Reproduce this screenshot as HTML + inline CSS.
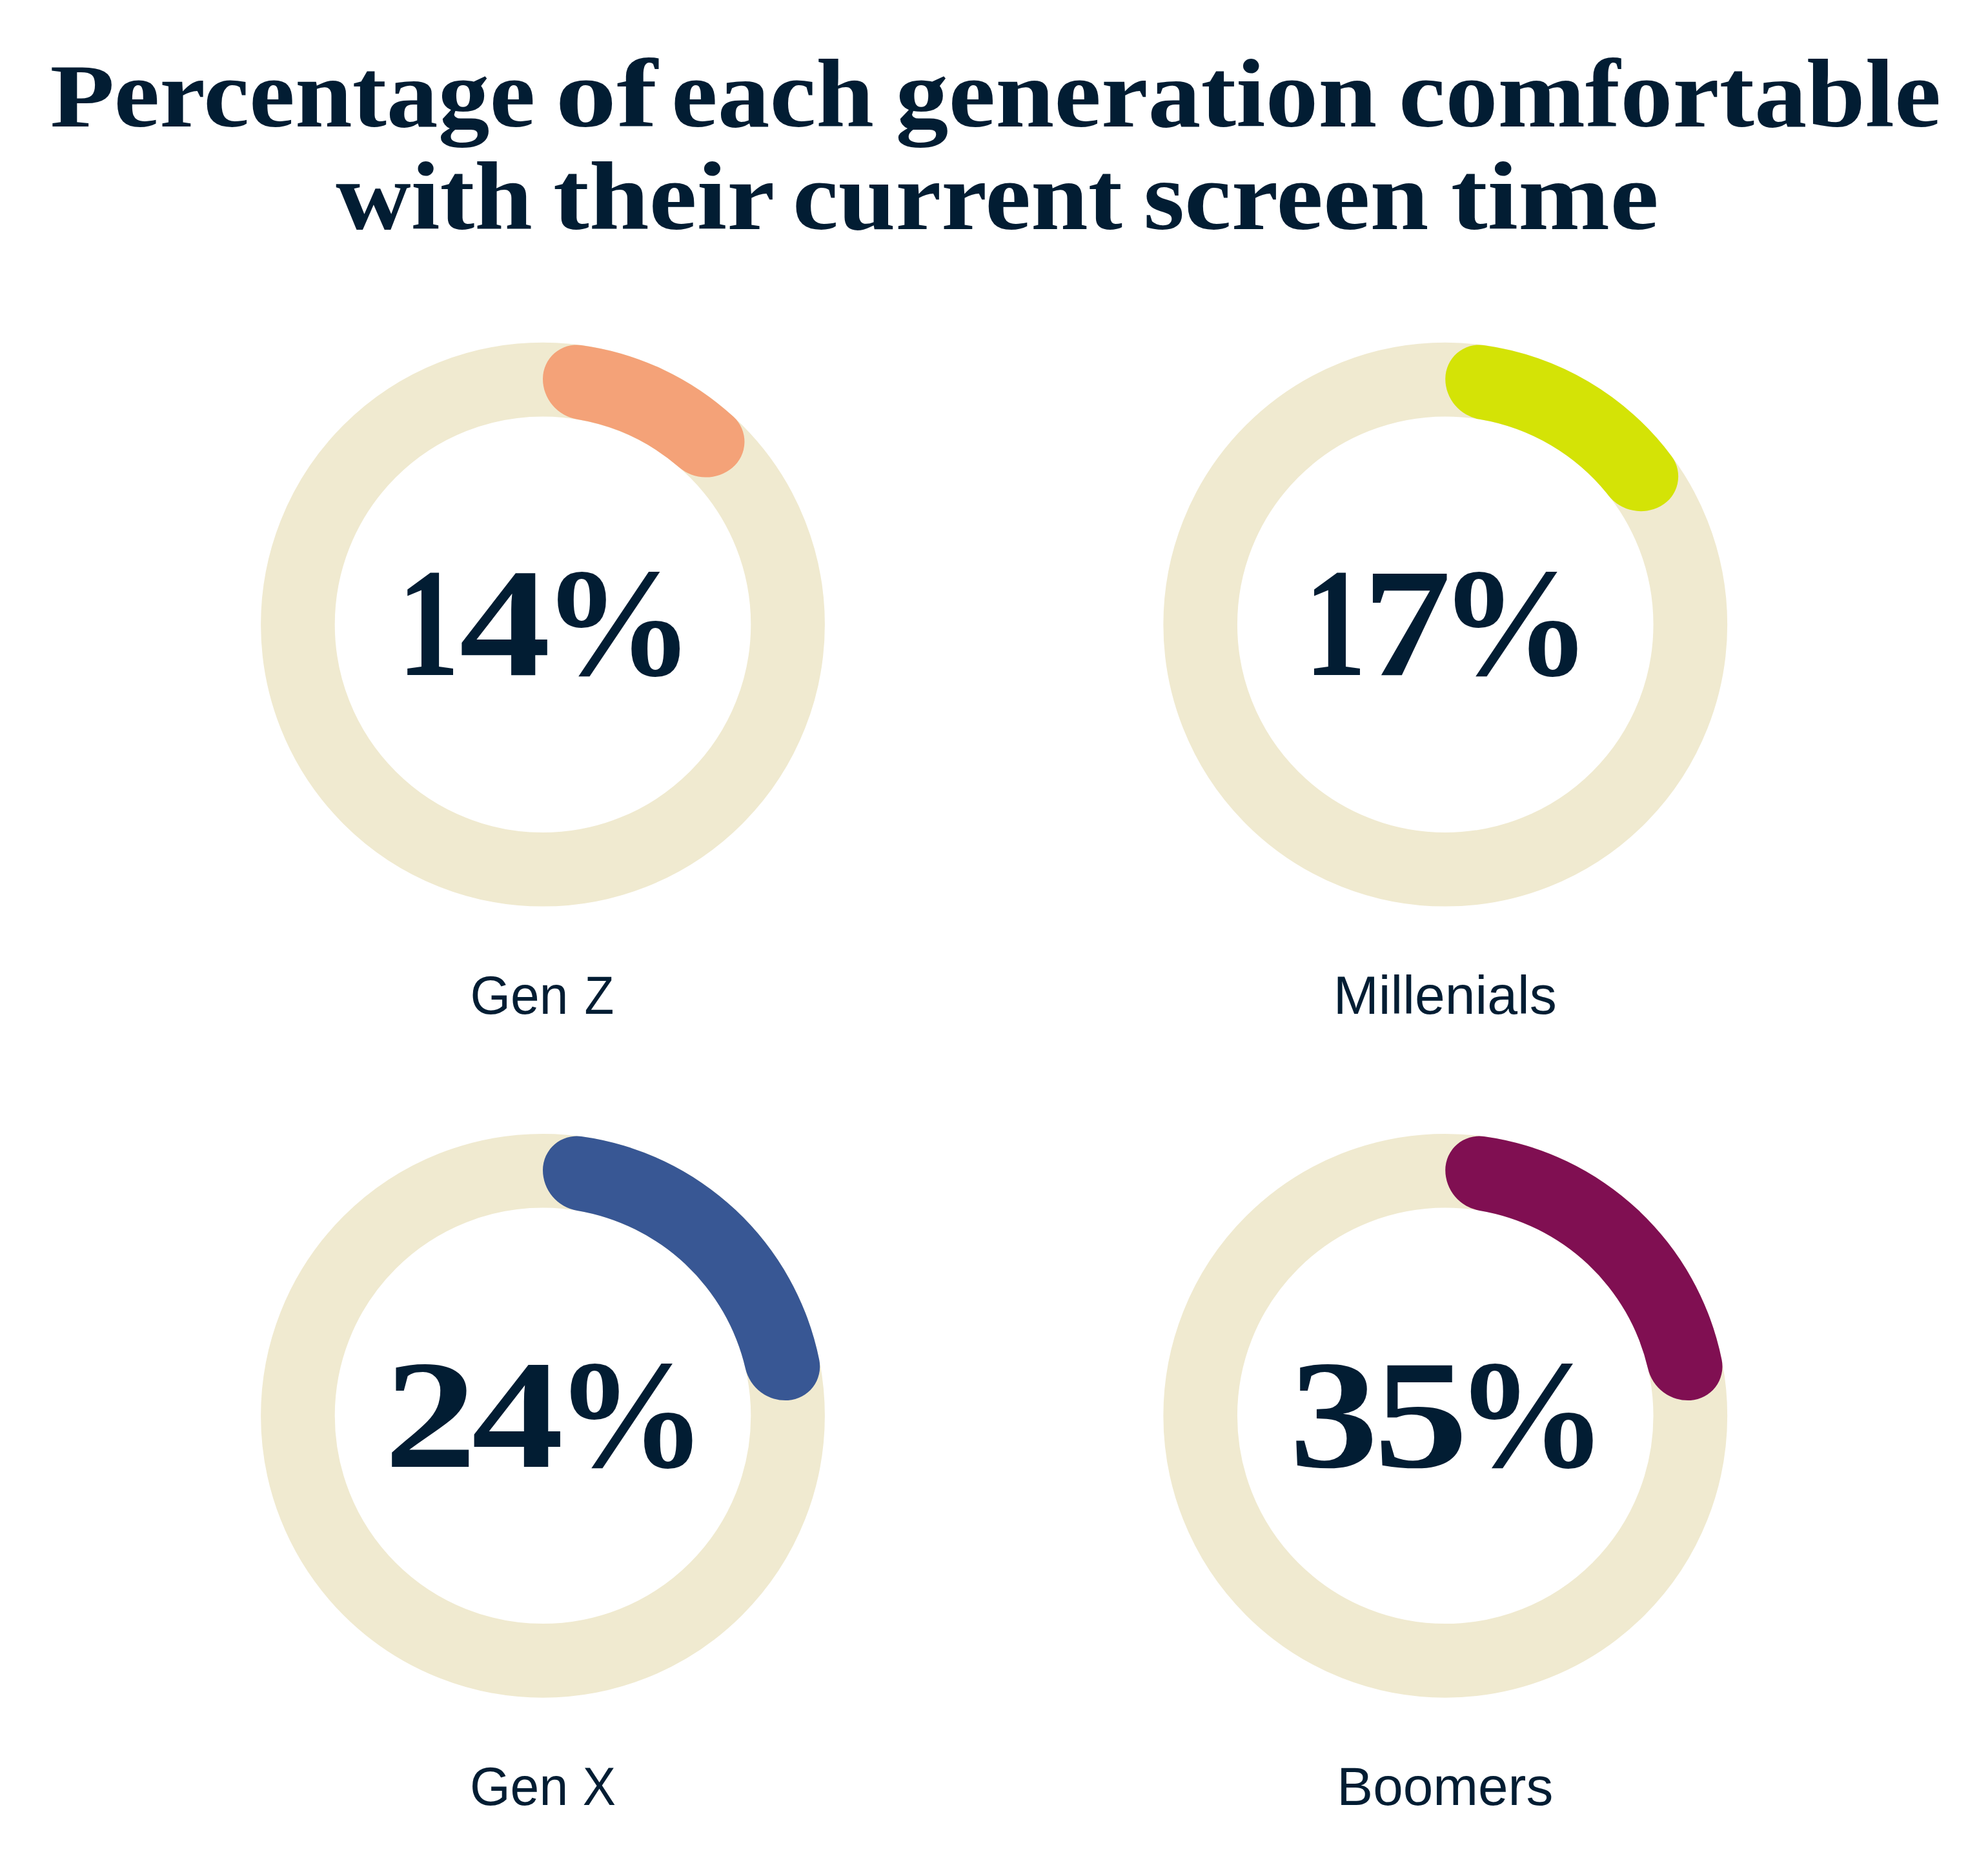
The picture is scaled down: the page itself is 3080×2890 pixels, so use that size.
<!DOCTYPE html>
<html lang="en">
<head>
<meta charset="utf-8">
<title>Percentage of each generation comfortable with their current screen time</title>
<style>
html,body{margin:0;padding:0;background:#fff;overflow:hidden;}
svg{display:block;width:100vw;height:auto;}
text{white-space:pre;}
.title{font-family:"Liberation Serif",serif;font-weight:700;font-size:150px;fill:#021d33;}
.num{font-family:"Liberation Serif",serif;font-weight:700;font-size:240px;fill:#021d33;}
.lab{font-family:"Liberation Sans",sans-serif;font-weight:400;font-size:84px;fill:#021d33;}
</style>
</head>
<body>
<svg viewBox="0 0 3080 2890" role="img" aria-label="Percentage of each generation comfortable with their current screen time">
<rect width="3080" height="2890" fill="#ffffff"/>
<circle cx="841.0" cy="967.7" r="379.6" fill="none" stroke="#f0ead0" stroke-width="114.6"/>
<path d="M900.67 534.89 A436.90 436.90 0 0 1 1136.45 645.84 A52.5 52.5 0 0 1 1134.41 724.97 L1134.41 724.97 A63.81 63.81 0 0 1 1051.97 724.04 A322.30 322.30 0 0 0 894.26 649.83 A63.81 63.81 0 0 1 841.00 586.90 L841.00 586.90 A52.5 52.5 0 0 1 900.67 534.89 Z" fill="#f4a278"/>
<circle cx="2239.25" cy="967.7" r="379.6" fill="none" stroke="#f0ead0" stroke-width="114.6"/>
<path d="M2298.92 534.89 A436.90 436.90 0 0 1 2589.77 706.90 A52.5 52.5 0 0 1 2572.95 784.25 L2572.95 784.25 A63.81 63.81 0 0 1 2492.14 767.89 A322.30 322.30 0 0 0 2292.51 649.83 A63.81 63.81 0 0 1 2239.25 586.90 L2239.25 586.90 A52.5 52.5 0 0 1 2298.92 534.89 Z" fill="#d4e306"/>
<circle cx="841.0" cy="2193.8" r="379.6" fill="none" stroke="#f0ead0" stroke-width="114.6"/>
<path d="M900.67 1760.99 A436.90 436.90 0 0 1 1269.21 2107.07 A52.5 52.5 0 0 1 1221.05 2169.89 L1221.05 2169.89 A63.81 63.81 0 0 1 1154.90 2120.68 A322.30 322.30 0 0 0 894.26 1875.93 A63.81 63.81 0 0 1 841.00 1813.00 L841.00 1813.00 A52.5 52.5 0 0 1 900.67 1760.99 Z" fill="#385794"/>
<circle cx="2239.25" cy="2193.8" r="379.6" fill="none" stroke="#f0ead0" stroke-width="114.6"/>
<path d="M2298.92 1760.99 A436.90 436.90 0 0 1 2667.46 2107.07 A52.5 52.5 0 0 1 2619.30 2169.89 L2619.30 2169.89 A63.81 63.81 0 0 1 2553.15 2120.68 A322.30 322.30 0 0 0 2292.51 1875.93 A63.81 63.81 0 0 1 2239.25 1813.00 L2239.25 1813.00 A52.5 52.5 0 0 1 2298.92 1760.99 Z" fill="#800f52"/>
<text class="title" y="196"><tspan id="p0" x="77.64" textLength="100.01" lengthAdjust="spacingAndGlyphs" font-size="139">P</tspan><tspan id="p1" x="176.53" textLength="652.76" lengthAdjust="spacingAndGlyphs">ercentage</tspan> <tspan id="p2" x="860.22" textLength="158.53" lengthAdjust="spacingAndGlyphs">of</tspan> <tspan id="p3" x="1040.05" textLength="314.18" lengthAdjust="spacingAndGlyphs">each</tspan> <tspan id="p4" x="1387.60" textLength="745.78" lengthAdjust="spacingAndGlyphs">generation</tspan> <tspan id="p5" x="2166.93" textLength="840.22" lengthAdjust="spacingAndGlyphs">comfortable</tspan></text>
<text class="title" y="355"><tspan id="p6" x="520.16" textLength="304.78" lengthAdjust="spacingAndGlyphs">with</tspan> <tspan id="p7" x="856.97" textLength="340.41" lengthAdjust="spacingAndGlyphs">their</tspan> <tspan id="p8" x="1227.93" textLength="511.09" lengthAdjust="spacingAndGlyphs">current</tspan> <tspan id="p9" x="1771.41" textLength="442.05" lengthAdjust="spacingAndGlyphs">screen</tspan> <tspan id="p10" x="2247.71" textLength="322.24" lengthAdjust="spacingAndGlyphs">time</tspan></text>
<text class="num" y="1046.2"><tspan id="p11" x="615.64" textLength="96.23" lengthAdjust="spacingAndGlyphs">1</tspan><tspan id="p12" x="711.54" textLength="141.51" lengthAdjust="spacingAndGlyphs">4</tspan><tspan id="p13" x="840.06" textLength="235.00" lengthAdjust="spacingAndGlyphs">%</tspan></text>
<text class="num" y="1046.2"><tspan id="p14" x="2020.61" textLength="96.47" lengthAdjust="spacingAndGlyphs">1</tspan><tspan id="p15" x="2111.34" textLength="136.86" lengthAdjust="spacingAndGlyphs">7</tspan><tspan id="p16" x="2229.67" textLength="235.83" lengthAdjust="spacingAndGlyphs">%</tspan></text>
<text class="num" y="2273"><tspan id="p17" x="595.18" textLength="143.32" lengthAdjust="spacingAndGlyphs">2</tspan><tspan id="p18" x="730.72" textLength="142.48" lengthAdjust="spacingAndGlyphs">4</tspan><tspan id="p19" x="860.26" textLength="234.09" lengthAdjust="spacingAndGlyphs">%</tspan></text>
<text class="num" y="2273"><tspan id="p20" x="1998.02" textLength="137.18" lengthAdjust="spacingAndGlyphs">3</tspan><tspan id="p21" x="2128.18" textLength="146.62" lengthAdjust="spacingAndGlyphs">5</tspan><tspan id="p22" x="2254.82" textLength="234.91" lengthAdjust="spacingAndGlyphs">%</tspan></text>
<text class="lab" y="1570.7"><tspan id="p23" x="728.50" textLength="151.83" lengthAdjust="spacingAndGlyphs">Gen</tspan> <tspan id="p24" x="905.60" textLength="45.73" lengthAdjust="spacingAndGlyphs">Z</tspan></text>
<text class="lab" y="1570.7"><tspan id="p25" x="2065.79" textLength="346.02" lengthAdjust="spacingAndGlyphs">Millenials</tspan></text>
<text class="lab" y="2797"><tspan id="p26" x="727.98" textLength="152.20" lengthAdjust="spacingAndGlyphs">Gen</tspan> <tspan id="p27" x="902.75" textLength="51.21" lengthAdjust="spacingAndGlyphs">X</tspan></text>
<text class="lab" y="2797"><tspan id="p28" x="2071.31" textLength="335.00" lengthAdjust="spacingAndGlyphs">Boomers</tspan></text>
</svg>
</body>
</html>
